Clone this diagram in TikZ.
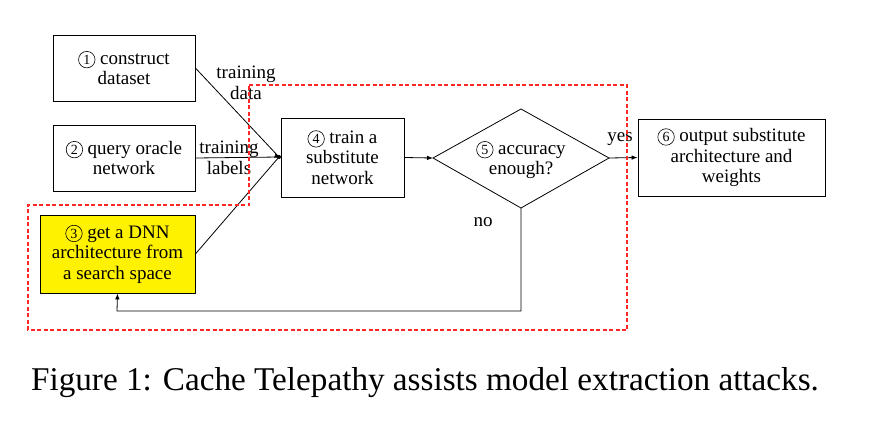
\documentclass[tikz,border=0pt]{standalone}
\usepackage{fontspec}
\setmainfont{Liberation Serif}
\usetikzlibrary{arrows.meta}
\newcommand{\cnum}[1]{\tikz[baseline=(cn.base)]\node[circle, draw, line width=0.6pt, inner sep=0pt, minimum size=16.5pt, font=\fontsize{14}{14}\selectfont] (cn) {#1};\ }
\begin{document}
\begin{tikzpicture}[x=1pt,y=-1pt,
  every node/.style={font=\fontsize{19}{20.5}\selectfont},
  box/.style={draw, line width=0.8pt, align=center, inner sep=0pt},
  lbl/.style={align=center, inner sep=0pt},
  conn/.style={line width=0.8pt},
  arr/.style={conn, -{Latex[length=6pt,width=4.5pt]}},
  region/.style={draw=red!85, line width=1.1pt, dash pattern=on 4pt off 2.5pt}]
\useasboundingbox (0,0) rectangle (877,434);
\node[box, minimum width=142pt, minimum height=66pt] (b1) at (124,68) {\cnum{1}construct\\dataset};
\node[box, minimum width=142pt, minimum height=66pt] (b2) at (124,158) {\cnum{2}query oracle\\network};
\node[box, fill=yellow, minimum width=155pt, minimum height=78pt] (b3) at (117.5,254) {\cnum{3}get a DNN\\architecture from\\a search space};
\node[box, minimum width=123pt, minimum height=79pt] (b4) at (342.5,157.5) {\cnum{4}train a\\substitute\\network};
\coordinate (dl) at (433,158);
\coordinate (dt) at (521,109);
\coordinate (dr) at (609,158);
\coordinate (db) at (521,208);
\draw[conn] (dl) -- (dt) -- (dr) -- (db) -- cycle;
\node[lbl] (b5) at (521,160) {\cnum{5}accuracy\\enough?};
\node[box, minimum width=187pt, minimum height=77pt] (b6) at (731.5,157.5) {\cnum{6}output substitute\\architecture and\\weights};
\coordinate (j) at (279,157);
\draw[conn] (b1.east) -- (j);
\draw[conn] (b2.east) -- (j);
\draw[conn] (b3.east) -- (j);
\fill (j) circle (2pt);
\draw[arr] (j) -- (b4.west);
\draw[arr] (b4.east) -- (dl);
\draw[arr] (dr) -- (b6.west);
\coordinate (c1) at (521,311);
\coordinate (c2) at (117,311);
\draw[arr] (db) -- (c1) -- (c2) -- (b3.south);
\node[lbl] (tdata) at (246,83) {training\\data};
\node[lbl] (tlab) at (229,158) {training\\labels};
\node[lbl] (yes) at (620,139) {yes};
\node[lbl] (no) at (483,222) {no};
\draw[region] (249,85) -- (627,85) -- (627,330) -- (28,330) -- (28,205) -- (249,205) -- cycle;
\node[inner sep=0pt, font=\fontsize{33.2}{34}\selectfont] (cap) at (425,383) {Figure 1: Cache Telepathy assists model extraction attacks.};
\end{tikzpicture}
\end{document}
